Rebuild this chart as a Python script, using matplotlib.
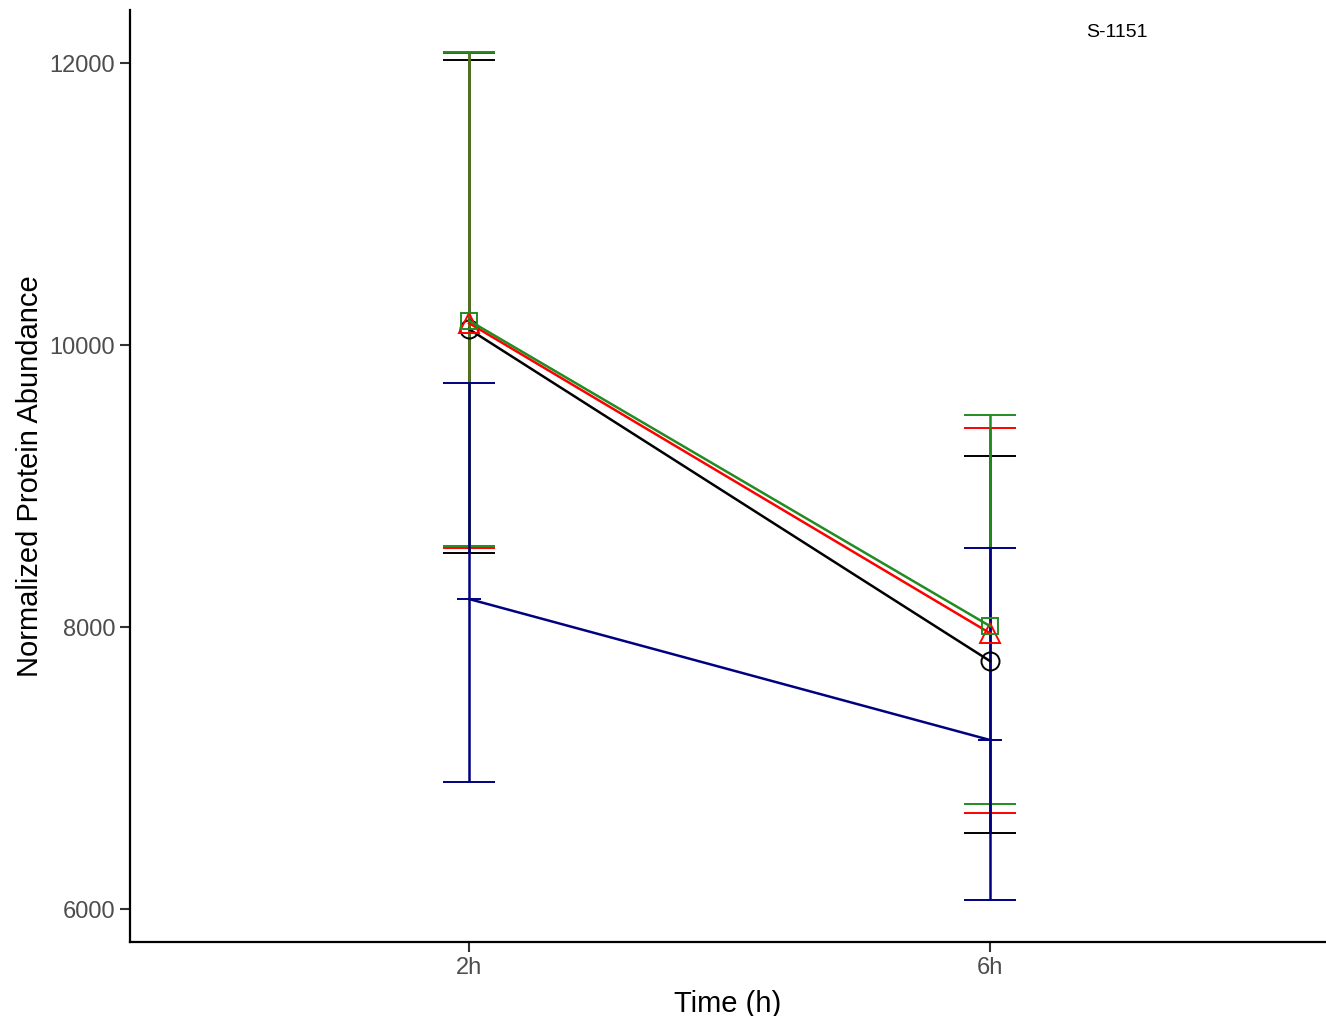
import numpy as np
import matplotlib
matplotlib.use('Agg')
import matplotlib.pyplot as plt

plt.rcParams['font.family'] = ['Liberation Sans', 'DejaVu Sans']

# x categories
times = ['2h', '6h']

# mean values and error bar limits for each series
black_mean = [10113, 7759]
black_low = [8527, 6539]
black_high = [12021, 9217]

red_mean = [10156, 7957]
red_low = [8558, 6679]
red_high = [12069, 9413]

green_mean = [10174, 8007]
green_low = [8574, 6745]
green_high = [12080, 9505]

blue_mean = [8199, 7199]
blue_low = [6901, 6064]
blue_high = [9730, 8560]

series = [
    (black_mean, black_low, black_high, 'black', 'o', 13),
    (red_mean, red_low, red_high, 'red', '^', 14),
    (green_mean, green_low, green_high, 'forestgreen', 's', 12),
    (blue_mean, blue_low, blue_high, 'navy', '_', 17),
]

# ============= PLOTTING ==============
fig = plt.figure(figsize=(13.26, 10.16), dpi=100)
ax = fig.add_axes([0.098, 0.0728, 0.902, 0.9172])

x = np.arange(1, len(times) + 1)

for mean, low, high, col, mk, ms in series:
    mean = np.array(mean)
    yerr = [mean - np.array(low), np.array(high) - mean]
    ax.errorbar(x, mean, yerr=yerr, color=col, ecolor=col,
                elinewidth=1.8, capsize=18.7, capthick=1.8,
                linewidth=1.8, marker=mk, markersize=ms,
                markerfacecolor='none', markeredgecolor=col,
                markeredgewidth=1.4)

ax.set_xlim(0.349, 2.645)
ax.set_ylim(5766, 12376)
ax.set_xticks(x)
ax.set_xticklabels(times)
ax.set_yticks([6000, 8000, 10000, 12000])

for side in ['top', 'right']:
    ax.spines[side].set_visible(False)
for side in ['left', 'bottom']:
    ax.spines[side].set_linewidth(1.6)
ax.tick_params(axis='both', labelsize=17, labelcolor='#4D4D4D',
               length=7, width=1.5, color='#333333')

ax.set_xlabel('Time (h)', fontsize=21, labelpad=8)
ax.set_ylabel('Normalized Protein Abundance', fontsize=21)

fig.text(1117 / 1326, 1 - 33 / 1016, 'S-1151', fontsize=14,
         ha='center', va='center')

plt.savefig('out.png', dpi=100)
plt.close()
